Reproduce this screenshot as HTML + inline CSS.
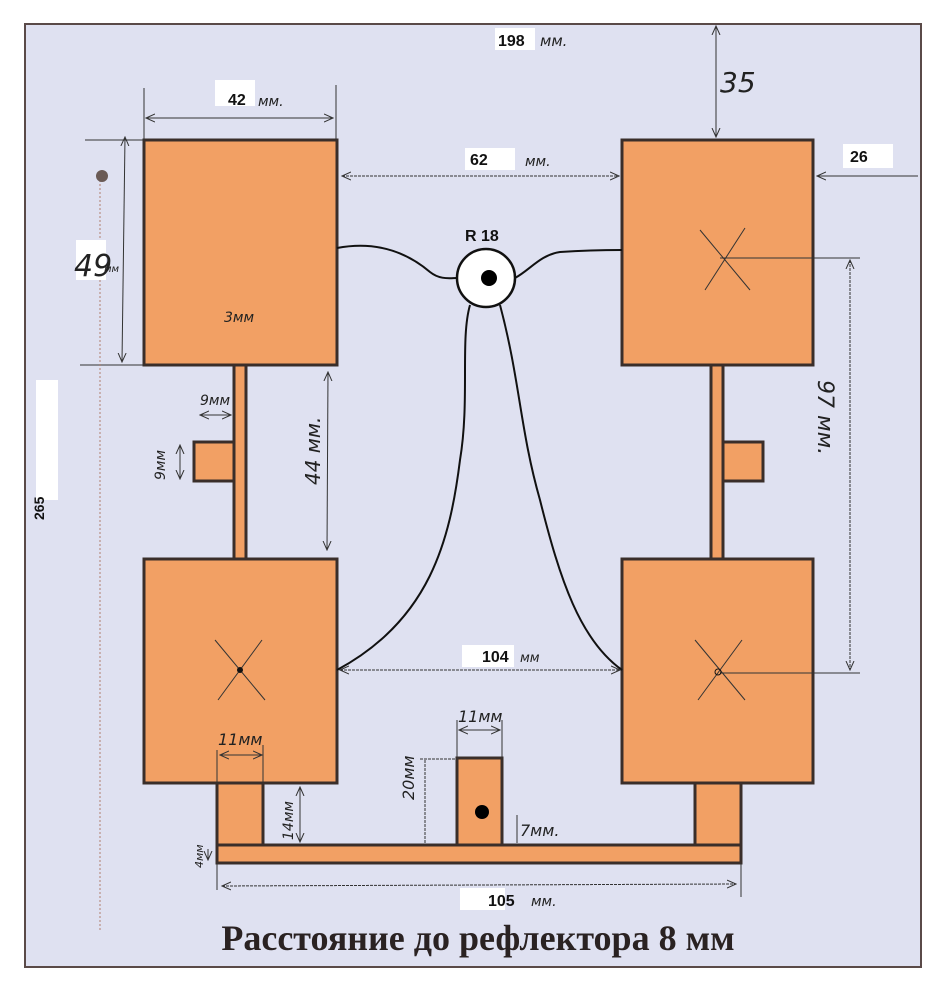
<!DOCTYPE html>
<html><head><meta charset="utf-8"><style>
body{margin:0;background:#fff;}
svg{display:block}
.h{font-family:"DejaVu Sans",sans-serif;font-style:italic;fill:#222}
.b{font-family:"Liberation Sans",sans-serif;font-weight:bold;fill:#111}
</style></head><body>
<svg width="946" height="981" viewBox="0 0 946 981">
<defs><marker id="a" markerWidth="10" markerHeight="10" refX="9" refY="5" orient="auto-start-reverse"><path d="M0,1 L9,5 L0,9" fill="none" stroke="#333" stroke-width="1"/></marker></defs>
<rect x="0" y="0" width="946" height="981" fill="#fff"/>
<rect x="25" y="24" width="896" height="943" fill="#dfe1f1" stroke="#5a4a48" stroke-width="2"/>
<g fill="#f2a064" stroke="#3a2e2a" stroke-width="3">
<rect x="144" y="140" width="193" height="225"/>
<rect x="622" y="140" width="191" height="225"/>
<rect x="144" y="559" width="193" height="224"/>
<rect x="622" y="559" width="191" height="224"/>
<rect x="234" y="365" width="12" height="194"/>
<rect x="711" y="365" width="12" height="194"/>
<rect x="194" y="442" width="40" height="39"/>
<rect x="723" y="442" width="40" height="39"/>
<rect x="217" y="783" width="46" height="62"/>
<rect x="695" y="783" width="46" height="62"/>
<rect x="457" y="758" width="45" height="87"/>
<rect x="217" y="845" width="524" height="18"/>
</g>
<circle cx="482" cy="812" r="7" fill="#000"/>
<g fill="none" stroke="#111" stroke-width="2">
<path d="M337,248 C380,240 410,255 430,272 C440,280 450,278 457,278"/>
<path d="M515,278 C530,270 540,255 560,252 C590,250 605,250 622,250"/>
<path d="M470,305 C460,340 470,400 460,460 C450,540 430,620 337,670"/>
<path d="M500,305 C520,380 520,430 540,500 C560,580 580,640 622,670"/>
</g>
<circle cx="486" cy="278" r="29" fill="#fff" stroke="#111" stroke-width="2.5"/>
<circle cx="489" cy="278" r="8" fill="#000"/>
<g stroke="#333" stroke-width="1" fill="none">
<line x1="146" y1="118" x2="333" y2="118" marker-start="url(#a)" marker-end="url(#a)"/>
<line x1="144" y1="88" x2="144" y2="140"/><line x1="336" y1="85" x2="336" y2="140"/>
<line x1="125" y1="137" x2="122" y2="362" marker-start="url(#a)" marker-end="url(#a)"/>
<line x1="85" y1="140" x2="144" y2="140"/><line x1="80" y1="365" x2="144" y2="365"/>
<line x1="342" y1="176" x2="619" y2="176" marker-start="url(#a)" marker-end="url(#a)" stroke-dasharray="3,1"/>
<line x1="716" y1="26" x2="716" y2="137" marker-start="url(#a)" marker-end="url(#a)"/>
<line x1="918" y1="176" x2="817" y2="176" marker-end="url(#a)"/>
<line x1="850" y1="260" x2="850" y2="670" marker-start="url(#a)" marker-end="url(#a)" stroke-dasharray="3,1"/>
<line x1="720" y1="258" x2="860" y2="258"/><line x1="720" y1="673" x2="860" y2="673"/>
<line x1="328" y1="372" x2="327" y2="550" marker-start="url(#a)" marker-end="url(#a)"/>
<line x1="340" y1="670" x2="620" y2="670" marker-start="url(#a)" marker-end="url(#a)" stroke-dasharray="3,1"/>
<line x1="100" y1="176" x2="100" y2="930" stroke="#b08070" stroke-dasharray="2,2"/>
<line x1="222" y1="886" x2="736" y2="884" marker-start="url(#a)" marker-end="url(#a)" stroke-dasharray="3,1"/>
<line x1="217" y1="863" x2="217" y2="890"/><line x1="741" y1="863" x2="741" y2="897"/>
<line x1="220" y1="755" x2="262" y2="755" marker-start="url(#a)" marker-end="url(#a)"/>
<line x1="217" y1="750" x2="217" y2="783"/><line x1="263" y1="745" x2="263" y2="783"/>
<line x1="459" y1="730" x2="500" y2="730" marker-start="url(#a)" marker-end="url(#a)"/>
<line x1="457" y1="720" x2="457" y2="758"/><line x1="502" y1="720" x2="502" y2="758"/>
<line x1="300" y1="787" x2="300" y2="842" marker-start="url(#a)" marker-end="url(#a)"/>
<line x1="425" y1="760" x2="425" y2="843" stroke-dasharray="3,1"/><line x1="420" y1="759" x2="457" y2="759" stroke-dasharray="3,1"/>
<line x1="517" y1="815" x2="517" y2="843"/>
<line x1="180" y1="445" x2="180" y2="479" marker-start="url(#a)" marker-end="url(#a)"/>
<line x1="200" y1="415" x2="231" y2="415" marker-start="url(#a)" marker-end="url(#a)"/>
<line x1="208" y1="849" x2="208" y2="860" marker-end="url(#a)"/>
</g>
<g stroke="#333" stroke-width="1">
<line x1="700" y1="230" x2="750" y2="290"/><line x1="745" y1="228" x2="705" y2="290"/>
<line x1="215" y1="640" x2="265" y2="700"/><line x1="262" y1="640" x2="218" y2="700"/>
<line x1="695" y1="640" x2="745" y2="700"/><line x1="742" y1="640" x2="698" y2="700"/>
</g>
<circle cx="240" cy="670" r="3" fill="#111"/>
<circle cx="718" cy="672" r="3" fill="none" stroke="#111"/>
<circle cx="102" cy="176" r="6" fill="#6a5a55"/>
<rect x="495" y="28" width="40" height="22" fill="#fff"/><text x="498" y="46" class="b" font-size="16">198</text><text x="540" y="46" class="h" font-size="15">мм.</text>
<rect x="215" y="80" width="40" height="26" fill="#fff"/><text x="228" y="105" class="b" font-size="16">42</text><text x="258" y="106" class="h" font-size="14">мм.</text>
<rect x="465" y="148" width="50" height="22" fill="#fff"/><text x="470" y="165" class="b" font-size="16">62</text><text x="525" y="166" class="h" font-size="14">мм.</text>
<text x="720" y="92" class="h" font-size="28" font-style="normal">35</text>
<rect x="843" y="144" width="50" height="24" fill="#fff"/><text x="850" y="162" class="b" font-size="16">26</text>
<text x="465" y="241" class="b" font-size="16">R 18</text>
<rect x="76" y="240" width="30" height="40" fill="#fff"/><text x="74" y="276" class="h" font-size="30" font-style="normal">49</text><text x="104" y="272" class="h" font-size="10">мм</text>
<text x="224" y="322" class="h" font-size="14">3мм</text>
<text x="200" y="405" class="h" font-size="14">9мм</text>
<rect x="36" y="380" width="22" height="120" fill="#fff"/>
<text x="44" y="520" class="b" font-size="14" transform="rotate(-90 44 520)">265</text>
<text x="165" y="480" class="h" font-size="14" transform="rotate(-90 165 480)">9мм</text>
<text x="320" y="485" class="h" font-size="20" transform="rotate(-90 320 485)">44 мм.</text>
<text x="818" y="380" class="h" font-size="22" transform="rotate(90 818 380)">97 мм.</text>
<rect x="462" y="645" width="52" height="22" fill="#fff"/><text x="482" y="662" class="b" font-size="16">104</text><text x="520" y="662" class="h" font-size="13">мм</text>
<text x="218" y="745" class="h" font-size="16">11мм</text>
<text x="458" y="722" class="h" font-size="16">11мм</text>
<text x="293" y="840" class="h" font-size="14" transform="rotate(-90 293 840)">14мм</text>
<text x="414" y="800" class="h" font-size="16" transform="rotate(-90 414 800)">20мм</text>
<text x="520" y="836" class="h" font-size="16">7мм.</text>
<text x="203" y="868" class="h" font-size="11" transform="rotate(-90 203 868)">4мм</text>
<rect x="460" y="888" width="45" height="22" fill="#fff"/><text x="488" y="906" class="b" font-size="16">105</text><text x="531" y="906" class="h" font-size="14">мм.</text>
<text x="478" y="950" text-anchor="middle" font-family="Liberation Serif,serif" font-weight="bold" font-size="36" fill="#2a2222">Расстояние до рефлектора 8 мм</text>
</svg>
</body></html>
